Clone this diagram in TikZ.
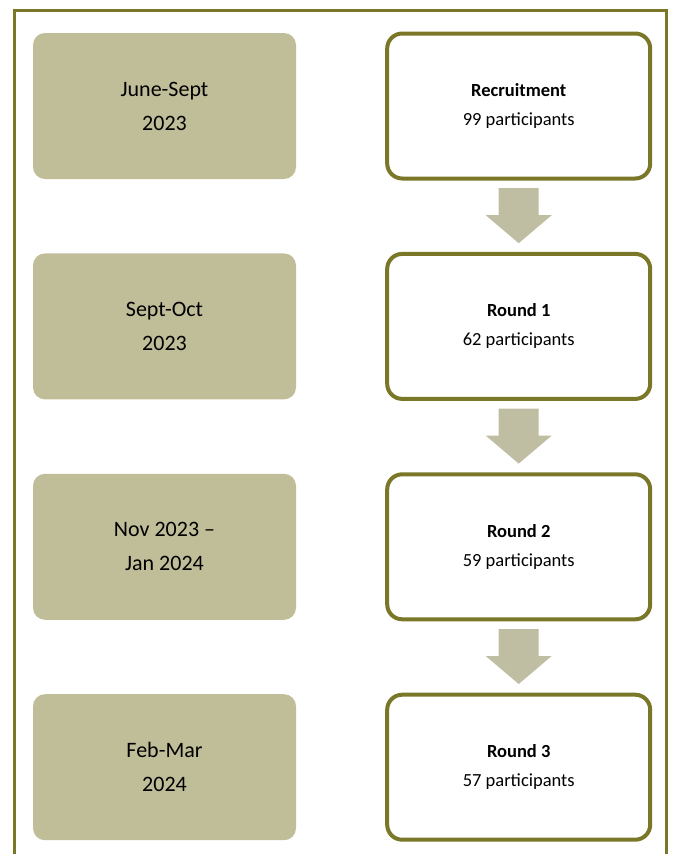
\documentclass[tikz,border=0pt]{standalone}
\usepackage{fontspec}
\setmainfont{Carlito}
\usetikzlibrary{positioning,calc}
\definecolor{frameolive}{RGB}{122,120,40}
\definecolor{datefill}{RGB}{192,189,153}
\definecolor{arrowfill}{RGB}{191,189,162}
\tikzstyle{datebox} = [rectangle, rounded corners=12pt, fill=datefill, minimum width=263pt, minimum height=146pt, text centered, align=center, font=\fontsize{22}{34}\selectfont]
\tikzstyle{stagebox} = [draw=frameolive, line width=4pt, rounded corners=15pt, fill=white, minimum width=263pt, minimum height=145pt, text centered, align=center, font=\fontsize{18.5}{29}\selectfont]
\tikzstyle{downarrow} = [fill=arrowfill]
\tikzstyle{frame} = [draw=frameolive, line width=3.5pt]

\begin{document}
\begin{tikzpicture}[x=1pt,y=-1pt]

    \useasboundingbox (0,0) rectangle (674,854);
    \draw[frame] (14.5,10.5) rectangle (666.5,880);

    \node[datebox] at (164.5,106) (date1) {June-Sept\\2023};
    \node[datebox, below=74pt of date1] (date2) {Sept-Oct\\2023};
    \node[datebox, below=74pt of date2] (date3) {Nov 2023 --\\Jan 2024};
    \node[datebox, below=74pt of date3] (date4) {Feb-Mar\\2024};

    \node[stagebox, right=89pt of date1] (stage1) {\textbf{Recruitment}\\99 participants};
    \node[stagebox, right=89pt of date2] (stage2) {\textbf{Round 1}\\62 participants};
    \node[stagebox, right=89pt of date3] (stage3) {\textbf{Round 2}\\59 participants};
    \node[stagebox, right=89pt of date4] (stage4) {\textbf{Round 3}\\57 participants};

    \foreach \a/\b in {stage1/stage2, stage2/stage3, stage3/stage4} {
        \coordinate (mid-\a) at ($(\a.south)!0.5!(\b.north)$);
        \fill[downarrow] ($(mid-\a)+(-20,-28)$) -- ++(40,0) -- ++(0,27) -- ++(13,0)
            -- ++(-33,28) -- ++(-33,-28) -- ++(13,0) -- cycle;
    }

\end{tikzpicture}
\end{document}
